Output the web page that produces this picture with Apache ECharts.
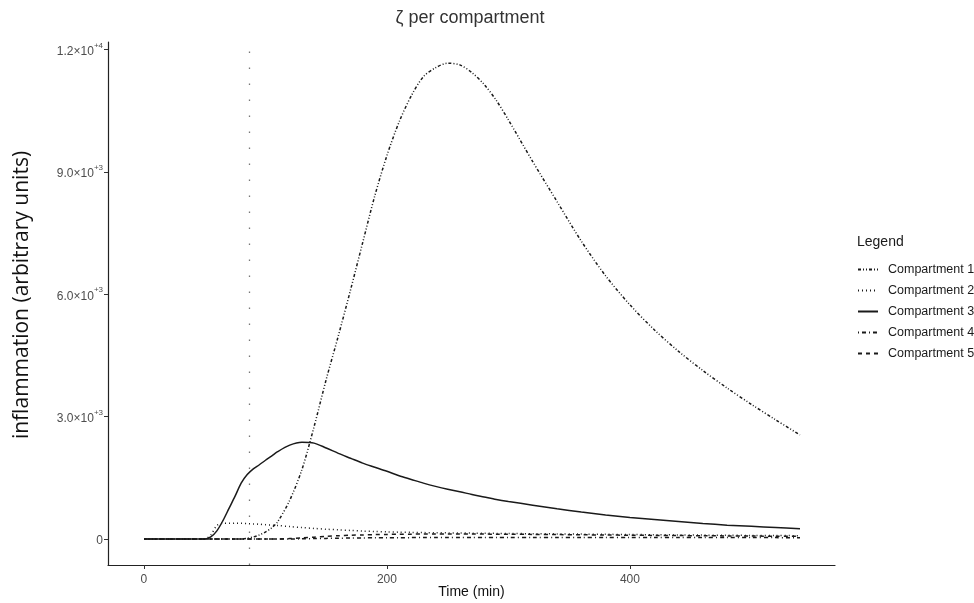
<!DOCTYPE html>
<html>
<head>
<meta charset="utf-8">
<script src="https://cdn.jsdelivr.net/npm/echarts@6/dist/echarts.min.js"></script>
<style>
  html, body { margin: 0; padding: 0; background: #fff; }
  #chart { width: 974px; height: 603px; }
</style>
</head>
<body>
<div id="chart"></div>
<script>
// time points (min)
const times = [0, 40, 50, 55, 60, 65, 70, 75, 80, 85,
  90, 95, 100, 105, 110, 120, 130, 140, 150, 160,
  170, 180, 190, 200, 210, 220, 230, 240, 250, 260,
  270, 280, 290, 300, 320, 340, 360, 380, 400, 420,
  440, 460, 480, 500, 520, 540];

// inflammation per compartment
const comp1 = [0, 0, 0, 0, 0, 0, 0, 0, 0, 20,
  50, 100, 170, 270, 420, 950, 1700, 2750, 3910, 4980,
  6100, 7260, 8410, 9400, 10220, 10860, 11330, 11550, 11660, 11620,
  11430, 11140, 10750, 10270, 9250, 8270, 7300, 6450, 5740, 5130,
  4600, 4130, 3700, 3300, 2920, 2550];
const comp2 = [0, 0, 0, 100, 330, 385, 385, 388, 385, 378,
  370, 362, 352, 342, 332, 305, 280, 260, 240, 225,
  210, 195, 185, 175, 168, 162, 157, 153, 150, 147,
  144, 141, 138, 135, 130, 125, 120, 115, 110, 105,
  100, 96, 92, 88, 85, 82];
const comp3 = [0, 0, 0, 50, 200, 450, 750, 1050, 1370, 1580,
  1720, 1820, 1930, 2030, 2140, 2300, 2370, 2350, 2230, 2100,
  1980, 1860, 1760, 1660, 1550, 1460, 1370, 1290, 1220, 1160,
  1090, 1030, 970, 920, 830, 740, 660, 590, 530, 480,
  430, 380, 340, 310, 280, 250];
const comp4 = [0, 0, 0, 0, 0, 0, 0, 0, 0, 0,
  0, 0, 0, 0, 0, 0, 5, 10, 15, 20,
  24, 27, 29, 31, 33, 34, 35, 36, 37, 38,
  38, 39, 39, 40, 40, 40, 40, 40, 40, 39,
  38, 37, 36, 35, 34, 33];
const comp5 = [0, 0, 0, 0, 0, 0, 0, 0, 0, 0,
  0, 0, 0, 0, 0, 10, 25, 45, 65, 80,
  92, 100, 107, 112, 116, 119, 121, 122, 122, 122,
  121, 120, 119, 117, 113, 108, 103, 98, 93, 88,
  84, 80, 76, 72, 69, 66];

const seriesNames = ['Compartment 1', 'Compartment 2', 'Compartment 3', 'Compartment 4', 'Compartment 5'];
const xTicks = [0, 200, 400];
const yTicks = [0, 3000, 6000, 9000, 12000];
const yTickLabels = ['0', '3.0|+3', '6.0|+3', '9.0|+3', '1.2|+4'];
const markerTime = 86.4;

const dashes = [
  [3, 2, 1, 2, 1, 2],
  [1, 3],
  'solid',
  [1, 3, 4, 3],
  [4, 4]
];
const values = [comp1, comp2, comp3, comp4, comp5];

const chart = echarts.init(document.getElementById('chart'));

const series = seriesNames.map((name, k) => ({
  name: name,
  type: 'line',
  data: times.map((t, i) => [t, values[k][i]]),
  showSymbol: false,
  symbol: 'none',
  smooth: 0.3,
  lineStyle: { color: '#1a1a1a', width: 1.5, type: dashes[k] },
  itemStyle: { color: '#1a1a1a' },
  z: 3
}));

series[0].markLine = {
  silent: true,
  symbol: ['none', 'none'],
  label: { show: false },
  lineStyle: { color: '#777', width: 1.3, type: [1.5, 14.5] },
  data: [{ xAxis: markerTime }]
};

const option = {
  animation: false,
  backgroundColor: '#fff',
  textStyle: { fontFamily: 'Liberation Sans' },
  grid: { left: 108, right: 139, top: 42, bottom: 38, containLabel: false, outerBoundsMode: 'none' },
  xAxis: {
    type: 'value',
    min: -29.6,
    max: 568.8,
    name: 'Time (min)',
    nameLocation: 'middle',
    nameGap: 20,
    nameMoveOverlap: false,
    nameTextStyle: { fontSize: 14, color: '#111' },
    axisLine: { show: true, onZero: false, lineStyle: { color: '#222', width: 1.2 } },
    axisTick: { show: true, length: 4, customValues: xTicks, lineStyle: { color: '#333' } },
    axisLabel: { customValues: xTicks, margin: 9, fontSize: 12, color: '#4d4d4d' },
    splitLine: { show: false }
  },
  yAxis: {
    type: 'value',
    min: -637,
    max: 12181,
    axisLine: { show: true, onZero: false, lineStyle: { color: '#222', width: 1.2 } },
    axisTick: { show: true, length: 4, customValues: yTicks, lineStyle: { color: '#333' } },
    axisLabel: {
      customValues: yTicks,
      margin: 5,
      color: '#4d4d4d',
      formatter: function (v) {
        const lab = yTickLabels[yTicks.indexOf(v)];
        if (lab === undefined) return '';
        if (lab.indexOf('|') < 0) return '{b|' + lab + '}';
        const parts = lab.split('|');
        return '{b|' + parts[0] + '×10}{s|' + parts[1] + '}';
      },
      rich: {
        b: { fontSize: 12, color: '#4d4d4d', lineHeight: 16, verticalAlign: 'bottom' },
        s: { fontSize: 8, color: '#4d4d4d', lineHeight: 16, verticalAlign: 'top' }
      }
    },
    splitLine: { show: false }
  },
  legend: {
    orient: 'vertical',
    left: 857,
    top: 263,
    padding: 0,
    itemWidth: 20,
    itemHeight: 12,
    itemGap: 8,
    data: seriesNames,
    itemStyle: { opacity: 0 },
    textStyle: { fontSize: 12.5, color: '#1a1a1a', padding: [0, 0, 0, 5] }
  },
  graphic: [
    {
      type: 'text',
      x: 470,
      y: 18,
      style: { text: 'ζ per compartment', fontSize: 18, fill: '#333', fontFamily: 'Liberation Sans', align: 'center', verticalAlign: 'middle' }
    },
    {
      type: 'text',
      x: 857,
      y: 242,
      style: { text: 'Legend', fontSize: 14, fill: '#1a1a1a', fontFamily: 'Liberation Sans', verticalAlign: 'middle' }
    },
    {
      // y axis title
      type: 'text',
      x: 22,
      y: 295,
      rotation: Math.PI / 2,
      style: { text: 'inflammation (arbitrary units)', fontSize: 21, fill: '#111', fontFamily: 'Open Sans', align: 'center', verticalAlign: 'middle' }
    }
  ],
  series: series
};

chart.setOption(option);
</script>
</body>
</html>
